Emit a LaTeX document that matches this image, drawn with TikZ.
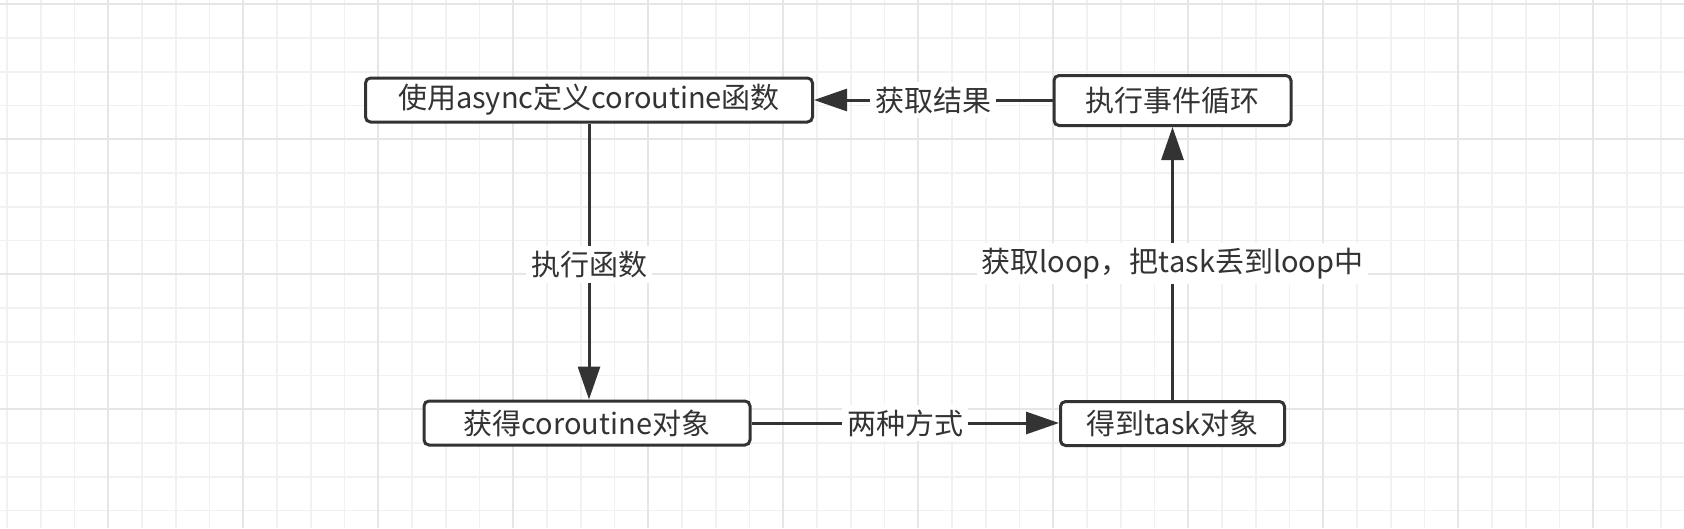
\documentclass[tikz,border=0pt]{standalone}
\usepackage{fontspec}
\setmainfont{Noto Sans CJK SC}
\usetikzlibrary{arrows.meta}
\definecolor{ink}{HTML}{333333}
\definecolor{gridminor}{HTML}{F1F1F1}
\definecolor{gridmajor}{HTML}{E6E6E6}
\tikzset{
  boxnode/.style={draw=ink, line width=3pt, rounded corners=5pt, fill=white, text=ink,
    font=\fontsize{29pt}{34pt}\selectfont, inner sep=0pt, anchor=center},
  linknode/.style={fill=white, text=ink, font=\fontsize{29pt}{34pt}\selectfont, inner sep=5pt},
  conn/.style={draw=ink, line width=3pt, -{Triangle[length=33pt,width=22pt]}},
  minorline/.style={draw=gridminor, line width=1.6pt},
  majorline/.style={draw=gridmajor, line width=1.8pt}
}
\begin{document}
\begin{tikzpicture}[x=1pt,y=-1pt]
\useasboundingbox (0,0) rectangle (1684,528);
\fill[white] (0,0) rectangle (1684,528);
% grid
\foreach \i in {0,...,49} {\draw[minorline] ({7.05+33.75*\i},0) -- ({7.05+33.75*\i},528);}
\foreach \j in {0,...,15} {\draw[minorline] (0,{4.3+33.75*\j}) -- (1684,{4.3+33.75*\j});}
\foreach \i in {0,...,11} {\draw[majorline] ({108.3+135*\i},0) -- ({108.3+135*\i},528);}
\foreach \j in {0,...,3} {\draw[majorline] (0,{4.3+135*\j}) -- (1684,{4.3+135*\j});}
% nodes
\node[boxnode, minimum width=447pt, minimum height=44pt] (b1) at (589,100) {使用async定义coroutine函数};
\node[boxnode, minimum width=237pt, minimum height=50pt] (b2) at (1172.5,100.5) {执行事件循环};
\node[boxnode, minimum width=326pt, minimum height=44pt] (b3) at (587,423) {获得coroutine对象};
\node[boxnode, minimum width=224pt, minimum height=44pt] (b4) at (1172.5,423.5) {得到task对象};
% connectors
\draw[conn] (b2.west |- b1.east) -- node[linknode] {获取结果} (b1.east);
\draw[conn] (b1.south) -- node[linknode, pos=0.51] {执行函数} (b1.south |- b3.north);
\draw[conn] (b3.east) -- node[linknode] {两种方式} (b3.east -| b4.west);
\draw[conn] (b4.north) -- node[linknode, pos=0.5] {获取loop，把task丢到loop中} (b4.north |- b2.south);
\end{tikzpicture}
\end{document}
